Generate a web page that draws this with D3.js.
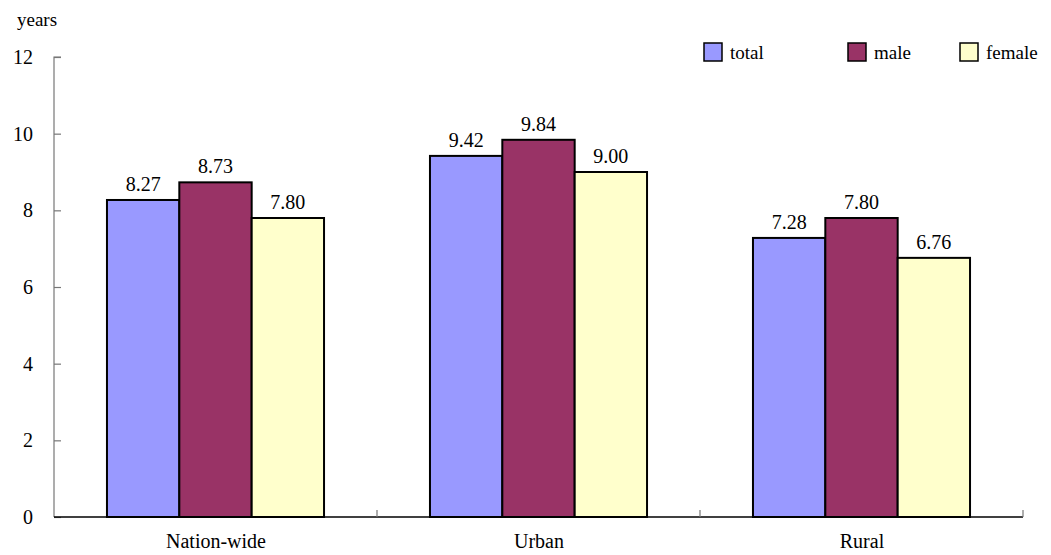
<!DOCTYPE html>
<html>
<head>
<meta charset="utf-8">
<script src="https://cdn.jsdelivr.net/npm/d3@7"></script>
<style>
  html, body { margin: 0; padding: 0; background: #fff; }
  svg text { font-family: "Times New Roman", Times, "Liberation Serif", "DejaVu Serif", serif; }
</style>
</head>
<body>
<svg id="chart" width="1051" height="555"></svg>
<script>
// Average years of schooling, by area and sex
const categories = ["Nation-wide", "Urban", "Rural"];
const seriesNames = ["total", "male", "female"];
const total  = [8.27, 9.42, 7.28];
const male   = [8.73, 9.84, 7.80];
const female = [7.80, 9.00, 6.76];
const yTicks = [0, 2, 4, 6, 8, 10, 12];

const seriesValues = [total, male, female];
const colors = ["#9999ff", "#993366", "#ffffcc"];

const svg = d3.select("#chart");
const margin = { left: 54, right: 28, top: 57, bottom: 38 };
const W = 1051, H = 555;

const x = d3.scaleBand().domain(categories)
  .range([margin.left, W - margin.right]).paddingInner(0).paddingOuter(0);
const groupPad = x.bandwidth() * 0.164;
const inner = d3.scaleBand().domain(seriesNames)
  .range([groupPad, x.bandwidth() - groupPad]).padding(0);
const y = d3.scaleLinear().domain([0, 12]).range([H - margin.bottom, margin.top]);

// bars
categories.forEach((c, ci) => {
  const g = svg.append("g").attr("transform", `translate(${x(c)},0)`);
  seriesNames.forEach((s, si) => {
    const v = seriesValues[si][ci];
    g.append("rect")
      .attr("x", inner(s)).attr("y", y(v))
      .attr("width", inner.bandwidth()).attr("height", y(0) - y(v))
      .attr("fill", colors[si]).attr("stroke", "#000").attr("stroke-width", 2);
    g.append("text")
      .attr("x", inner(s) + inner.bandwidth() / 2).attr("y", y(v) - 9)
      .attr("text-anchor", "middle").attr("font-size", 20)
      .text(v.toFixed(2));
  });
});

// y axis
const yAxis = d3.axisRight(y).tickValues(yTicks).tickSize(7).tickFormat("");
const yg = svg.append("g").attr("transform", `translate(${margin.left},0)`).call(yAxis);
yg.selectAll("path, line").attr("stroke", "#777").attr("stroke-width", 1.2);
yg.select(".domain").attr("d", `M${7},${y(12)}H0V${y(0)}`);
yTicks.forEach(t => {
  svg.append("text").attr("x", 33).attr("y", y(t)).attr("dy", "0.35em")
    .attr("text-anchor", "end").attr("font-size", 20).text(t);
});

// x axis
const xg = svg.append("g").attr("transform", `translate(0,${y(0)})`);
xg.append("line").attr("x1", margin.left).attr("x2", W - margin.right)
  .attr("stroke", "#000").attr("stroke-width", 1.5);
const bounds = categories.map(c => x(c)).concat([x(categories[categories.length - 1]) + x.bandwidth()]);
bounds.slice(1).forEach(b => {
  xg.append("line").attr("x1", b).attr("x2", b).attr("y1", 0).attr("y2", -7)
    .attr("stroke", "#777").attr("stroke-width", 1.2);
});
categories.forEach(c => {
  svg.append("text").attr("x", x(c) + x.bandwidth() / 2 + 0.5).attr("y", 548)
    .attr("text-anchor", "middle").attr("font-size", 20).text(c);
});

// unit label
svg.append("text").attr("x", 17).attr("y", 26).attr("font-size", 19).text("years");

// legend
const legendX = [704, 848, 960];
seriesNames.forEach((s, i) => {
  svg.append("rect").attr("x", legendX[i]).attr("y", 43).attr("width", 18).attr("height", 18)
    .attr("fill", colors[i]).attr("stroke", "#000").attr("stroke-width", 1.5);
  svg.append("text").attr("x", legendX[i] + 26).attr("y", 52).attr("dy", "0.35em")
    .attr("font-size", 19).text(s);
});
</script>
</body>
</html>
